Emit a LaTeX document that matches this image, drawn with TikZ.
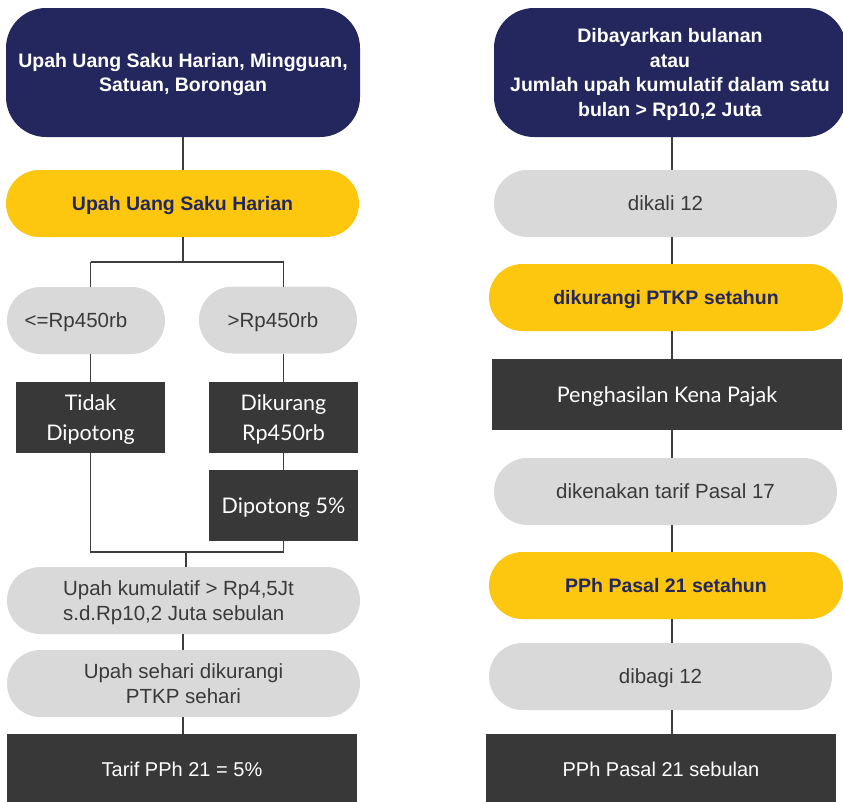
\documentclass[tikz,border=0pt]{standalone}
\usepackage{fontspec}
\setmainfont{Liberation Sans}
\newfontfamily\latofont{Lato}
\definecolor{navy}{HTML}{23275D}
\definecolor{gold}{HTML}{FDC60F}
\definecolor{pillgray}{HTML}{D9D9D9}
\definecolor{darkfill}{HTML}{383838}
\definecolor{txtgray}{HTML}{3A3A3A}
\definecolor{linec}{HTML}{3D3D3D}
\tikzset{
  navybox/.style={fill=navy, rounded corners=40pt, text=white, font=\bfseries\fontsize{19.5}{24.5}\selectfont, align=center, inner sep=0pt, outer sep=0pt, text depth=0pt},
  pill/.style={rounded corners=33.5pt, minimum height=67pt, inner sep=0pt, outer sep=0pt, align=center, text depth=0pt},
  graypill/.style={pill, fill=pillgray, text=txtgray, font=\fontsize{20.5}{25}\selectfont},
  goldpill/.style={pill, fill=gold, text=navy, font=\bfseries\fontsize{19.5}{25}\selectfont},
  darkbox/.style={fill=darkfill, text=white, inner sep=0pt, outer sep=0pt, align=center, text depth=0pt},
  latotext/.style={font=\latofont\fontsize{21.5}{29.5}\selectfont},
  robototext/.style={font=\fontsize{20}{25}\selectfont},
  conn/.style={draw=linec, line width=1.6pt}
}
\begin{document}
\begin{tikzpicture}[x=1pt,y=-1pt]
\useasboundingbox (0,0) rectangle (843,801);
% left column
\node[navybox, minimum width=354pt, minimum height=129pt] (n1) at (183,72.5) {Upah Uang Saku Harian, Mingguan,\\Satuan, Borongan};
\node[goldpill, minimum width=353pt] (y1) at (182.5,203.5) {Upah Uang Saku Harian};
\node[graypill, minimum width=158pt] (p1) at (86,320.5) {<=Rp450rb\hspace*{20pt}};
\node[graypill, minimum width=158pt] (p2) at (278,320) {>Rp450rb\hspace*{10pt}};
\node[darkbox, latotext, minimum width=149pt, minimum height=71pt] (t1) at (90.5,417.5) {Tidak\\Dipotong};
\node[darkbox, latotext, minimum width=149pt, minimum height=71pt] (t2) at (283.5,417.5) {Dikurang\\Rp450rb};
\node[darkbox, latotext, minimum width=149pt, minimum height=71pt] (t3) at (283.5,505.5) {Dipotong 5\%};
\node[graypill, minimum width=353pt, align=left] (p3) at (183.5,600.5) {Upah kumulatif > Rp4,5Jt\hspace*{10pt}\\s.d.Rp10,2 Juta sebulan};
\node[graypill, minimum width=353pt] (p4) at (183.5,683.5) {Upah sehari dikurangi\\PTKP sehari};
\node[darkbox, robototext, minimum width=350pt, minimum height=71pt] (t4) at (182,769.5) {Tarif PPh 21 = 5\%};
% right column
\node[navybox, minimum width=352pt, minimum height=129pt] (n2) at (670,72.5) {Dibayarkan bulanan\\atau\\Jumlah upah kumulatif dalam satu\\bulan > Rp10,2 Juta};
\node[graypill, minimum width=343pt] (g1) at (665.5,203.5) {dikali 12};
\node[goldpill, minimum width=354pt] (y2) at (666,297.5) {dikurangi PTKP setahun};
\node[darkbox, latotext, minimum width=350pt, minimum height=71pt] (d1) at (667,394.5) {Penghasilan Kena Pajak};
\node[graypill, minimum width=343pt] (g2) at (665.5,491.5) {dikenakan tarif Pasal 17};
\node[goldpill, minimum width=354pt] (y3) at (666,585.5) {PPh Pasal 21 setahun};
\node[graypill, minimum width=343pt] (g3) at (660.5,676.5) {dibagi 12};
\node[darkbox, robototext, minimum width=350pt, minimum height=71pt] (d2) at (661,769.5) {PPh Pasal 21 sebulan};
% spines
\coordinate (ls) at (183,0);
\coordinate (rs) at (672,0);
\coordinate (split) at (183,262);
\coordinate (join) at (186,552);
% left connectors
\draw[conn] (n1.south -| ls) -- (y1.north -| ls);
\draw[conn] (y1.south -| ls) -- (split);
\draw[conn] (split -| t1) -- (split -| t2);
\draw[conn] (split -| t1) -- (p1.north -| t1);
\draw[conn] (split -| t2) -- (p2.north -| t2);
\draw[conn] (p1.south -| t1) -- (t1.north);
\draw[conn] (p2.south -| t2) -- (t2.north);
\draw[conn] (t2.south) -- (t3.north);
\draw[conn] (t1.south) |- (join);
\draw[conn] (t3.south) |- (join);
\draw[conn] (join) -- (p3.north -| join);
\draw[conn] (p3.south -| ls) -- (p4.north -| ls);
\draw[conn] (p4.south -| ls) -- (t4.north -| ls);
% right connectors
\draw[conn] (n2.south -| rs) -- (g1.north -| rs);
\draw[conn] (g1.south -| rs) -- (y2.north -| rs);
\draw[conn] (y2.south -| rs) -- (d1.north -| rs);
\draw[conn] (d1.south -| rs) -- (g2.north -| rs);
\draw[conn] (g2.south -| rs) -- (y3.north -| rs);
\draw[conn] (y3.south -| rs) -- (g3.north -| rs);
\draw[conn] (g3.south -| rs) -- (d2.north -| rs);
\end{tikzpicture}
\end{document}
